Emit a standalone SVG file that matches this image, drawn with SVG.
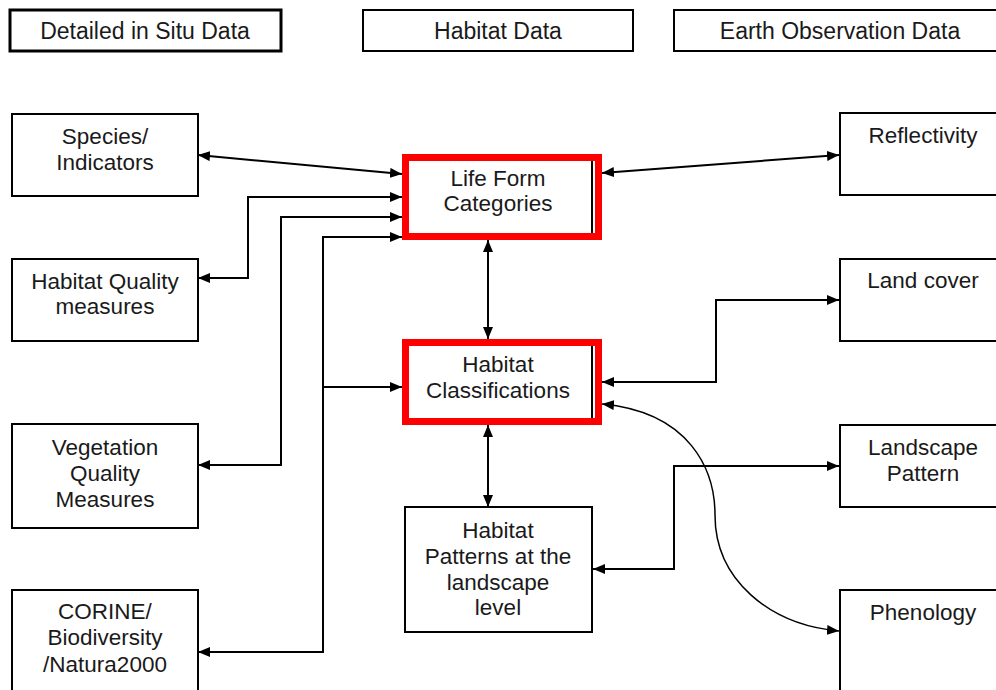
<svg xmlns="http://www.w3.org/2000/svg" width="996" height="690" viewBox="0 0 996 690">
<style>
.box{fill:#fff;stroke:#000;stroke-width:2}
.red{fill:none;stroke:#ff0000;stroke-width:7}
.t{font-family:"Liberation Sans",Arial,sans-serif;font-size:22.5px;fill:#1a1a1a;text-anchor:middle}
.h{font-family:"Liberation Sans",Arial,sans-serif;font-size:23px;fill:#1a1a1a;text-anchor:middle}
.c{fill:none;stroke:#000;stroke-width:2;marker-start:url(#ah);marker-end:url(#ah)}
.c1{fill:none;stroke:#000;stroke-width:2;marker-end:url(#ah)}
.cv{fill:none;stroke:#000;stroke-width:1.5;marker-start:url(#ah);marker-end:url(#ah)}
</style>
<defs>
<marker id="ah" markerUnits="userSpaceOnUse" markerWidth="13" markerHeight="11" refX="12" refY="5" orient="auto-start-reverse">
<path d="M0,0 L12,5 L0,10 z" fill="#000"/>
</marker>
</defs>
<rect width="996" height="690" fill="#fff"/>

<g id="hdr-insitu"><rect x="10" y="10" width="271" height="41" fill="#fff" stroke="#000" stroke-width="3"/><text class="h" x="145" y="39">Detailed in Situ Data</text></g>
<g id="hdr-habitat"><rect class="box" x="363" y="10" width="270" height="41"/><text class="h" x="498" y="39">Habitat Data</text></g>
<g id="hdr-eo"><rect class="box" x="674" y="10" width="340" height="41"/><text class="h" x="840" y="39">Earth Observation Data</text></g>

<g id="connectors">
<path class="c" d="M402,174 L198,155"/>
<path class="c" d="M402,197 H248 V278 H198"/>
<path class="c" d="M402,217 H281 V465 H198"/>
<path class="c" d="M402,237 H323 V652 H198"/>
<path class="c1" d="M323,387 H402"/>
<path class="c" d="M488,240 V339"/>
<path class="c" d="M488,425 V507"/>
<path class="c" d="M602,173 L839,155"/>
<path class="c" d="M602,382 H716 V300 H839"/>
<path class="c" d="M593,569 H674 V466 H839"/>
<path class="cv" d="M602,404 C690,412 715,470 715,515 C715,580 770,625 839,631"/>
</g>

<g id="species"><rect class="box" x="12" y="114" width="186" height="82"/><text class="t" x="105" y="144">Species/</text><text class="t" x="105" y="170">Indicators</text></g>
<g id="habqual"><rect class="box" x="12" y="259" width="186" height="82"/><text class="t" x="105" y="289">Habitat Quality</text><text class="t" x="105" y="314">measures</text></g>
<g id="vegqual"><rect class="box" x="12" y="424" width="186" height="104"/><text class="t" x="105" y="455">Vegetation</text><text class="t" x="105" y="481">Quality</text><text class="t" x="105" y="507">Measures</text></g>
<g id="corine"><rect class="box" x="12" y="590" width="186" height="110"/><text class="t" x="105" y="619">CORINE/</text><text class="t" x="105" y="645">Biodiversity</text><text class="t" x="105" y="672">/Natura2000</text></g>

<g id="lifeform"><rect class="box" x="407" y="157" width="185" height="80"/><rect class="red" x="405.5" y="157.5" width="193" height="79"/><text class="t" x="498" y="186">Life Form</text><text class="t" x="498" y="211">Categories</text></g>
<g id="habclass"><rect class="box" x="407" y="342" width="185" height="80"/><rect class="red" x="405.5" y="342.5" width="193" height="79"/><text class="t" x="498" y="372">Habitat</text><text class="t" x="498" y="398">Classifications</text></g>
<g id="habpat"><rect class="box" x="405" y="507" width="187" height="125"/><text class="t" x="498" y="538">Habitat</text><text class="t" x="498" y="564">Patterns at the</text><text class="t" x="498" y="590">landscape</text><text class="t" x="498" y="615">level</text></g>

<g id="reflect"><rect class="box" x="840" y="113" width="180" height="82"/><text class="t" x="923" y="143">Reflectivity</text></g>
<g id="landcover"><rect class="box" x="840" y="259" width="180" height="82"/><text class="t" x="923" y="288">Land cover</text></g>
<g id="landscape"><rect class="box" x="840" y="425" width="180" height="82"/><text class="t" x="923" y="455">Landscape</text><text class="t" x="923" y="481">Pattern</text></g>
<g id="phenology"><rect class="box" x="840" y="590" width="180" height="110"/><text class="t" x="923" y="620">Phenology</text></g>
</svg>
